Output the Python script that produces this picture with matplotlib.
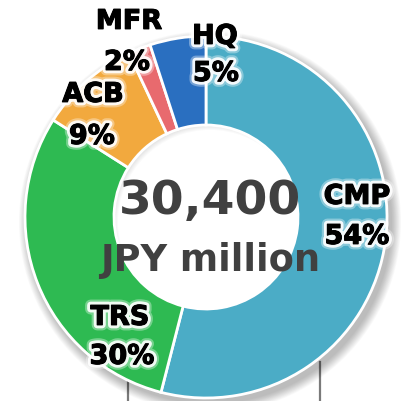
"""
Donut chart of 30,400 JPY million split by business segment
"""

# %% Imports

import matplotlib
matplotlib.use('Agg')
import matplotlib.pyplot as plt
import matplotlib.patheffects as pe
from matplotlib.patches import Circle, Wedge


# %% Data

segments = ['CMP', 'TRS', 'ACB', 'MFR', 'HQ']
shares = [54, 30, 9, 2, 5]
colors = ['#4BACC6', '#2EBA52', '#F2A93E', '#E86A6E', '#2A6FC0']
total_text = '30,400'
unit_text = 'JPY million'

# label spots, image pixels (x, y of cap centre for name, then for percent)
label_xy = {'CMP': ((357, 195), (357, 235)),
            'TRS': ((120, 316), (122, 355)),
            'ACB': ((93, 93), (92, 135)),
            'MFR': ((129, 20), (127, 61)),
            'HQ': ((215, 35), (216, 72))}


# %% Figure, axes in pixel units

W = H = 402
fig = plt.figure(figsize=(W / 100, H / 100), dpi=100)
ax = fig.add_axes([0, 0, 1, 1])
ax.set_xlim(0, W)
ax.set_ylim(0, H)
ax.set_aspect('equal')
ax.axis('off')

cx, cy = 206, H - 218
R = 181
r_in = 92


def px(size_pt):
    return size_pt * 100 / 72


def base_y(y_img, size_pt):
    # baseline so that caps are centred on y_img
    return H - (y_img + 0.729 * px(size_pt) / 2)


# %% Gray leader lines at the bottom

ax.plot([128, 128], [H - 381, 0], color='#7a7a7a', lw=1.6, zorder=0)
ax.plot([320, 320], [H - 363, 0], color='#7a7a7a', lw=1.6, zorder=0)


# %% Soft drop shadow

for i in range(14):
    ax.add_patch(Circle((cx + 4, cy - 5), R + 1 + i * 0.7, color='black',
                        alpha=0.018, lw=0, zorder=1))
hole = Circle((cx, cy), r_in + 2, color='white', lw=0, zorder=2)
ax.add_patch(hole)


# %% Donut

wedges, _ = ax.pie(shares, colors=colors, startangle=90, counterclock=False,
                   center=(cx, cy), radius=R,
                   wedgeprops=dict(width=R - r_in, edgecolor='white',
                                   linewidth=2))
for w in wedges:
    w.set_zorder(3)
ax.set_xlim(0, W)
ax.set_ylim(0, H)

# inner shadow inside the hole
for i in range(10):
    ring = Wedge((cx + 4, cy - 5), r_in + 40, 0, 360, width=40 - i * 1.0,
                 color='black', alpha=0.02, lw=0, zorder=2.5)
    ring.set_clip_path(hole)
    ax.add_patch(ring)


# %% Labels

glow = [pe.withStroke(linewidth=8, foreground='white', alpha=0.35),
        pe.withStroke(linewidth=5, foreground='white', alpha=0.9),
        pe.withStroke(linewidth=0.8, foreground='black')]
fs = 19.5
for name, pct in zip(segments, shares):
    (nx, ny), (qx, qy) = label_xy[name]
    ax.text(nx, base_y(ny, fs), name, ha='center', va='baseline',
            fontsize=fs, fontweight='bold', color='black',
            path_effects=glow, zorder=5)
    ax.text(qx, base_y(qy, fs), f'{pct}%', ha='center', va='baseline',
            fontsize=fs, fontweight='bold', color='black',
            path_effects=glow, zorder=5)

ax.text(210, base_y(197, 34), total_text, ha='center', va='baseline',
        fontsize=34, fontweight='bold', color='#404040', zorder=5)
ax.text(210, base_y(258, 26.5), unit_text, ha='center', va='baseline',
        fontsize=26.5, fontweight='bold', color='#404040', zorder=5)

fig.savefig('out.png', dpi=100)
